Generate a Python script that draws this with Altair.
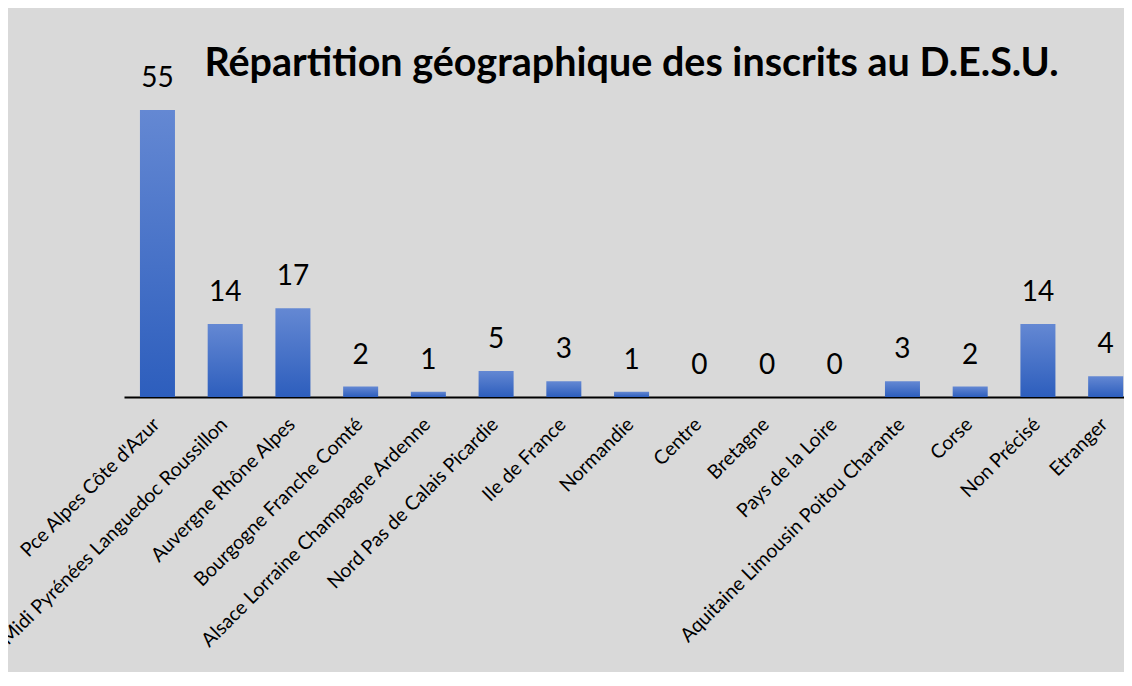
import altair as alt
import pandas as pd

regions = [
    "Pce Alpes Côte d'Azur",
    "Midi Pyrénées Languedoc Roussillon",
    "Auvergne Rhône Alpes",
    "Bourgogne Franche Comté",
    "Alsace Lorraine Champagne Ardenne",
    "Nord Pas de Calais Picardie",
    "Ile de France",
    "Normandie",
    "Centre",
    "Bretagne",
    "Pays de la Loire",
    "Aquitaine Limousin Poitou Charante",
    "Corse",
    "Non Précisé",
    "Etranger",
]
counts = [55, 14, 17, 2, 1, 5, 3, 1, 0, 0, 0, 3, 2, 14, 4]
title_text = ["Répartition géographique des inscrits au D.E.S.U."]

df = pd.DataFrame({"region": regions, "n": counts})
df_title = pd.DataFrame({"t": title_text})

FONT = "Lato"

x = alt.X(
    "region:N",
    sort=regions,
    title=None,
    scale=alt.Scale(paddingInner=0.483, paddingOuter=0.124, align=0.95),
    axis=alt.Axis(
        labelAngle=-45,
        labelAlign="right",
        labelBaseline="middle",
        labelFont=FONT,
        labelFontSize=19.5,
        labelColor="black",
        labelPadding=24,
        labelOffset=-1,
        labelLimit=0,
        ticks=False,
        domainColor="black",
        domainWidth=2,
        grid=False,
        labelOverlap=False,
    ),
)
y = alt.Y("n:Q", scale=alt.Scale(domain=[0, 55], nice=False), axis=None)

bars = alt.Chart(df).mark_bar(
    color={
        "gradient": "linear",
        "x1": 0, "y1": 0, "x2": 0, "y2": 1,
        "stops": [
            {"offset": 0, "color": "#6488d3"},
            {"offset": 1, "color": "#2d5ebd"},
        ],
    }
).encode(x=x, y=y)

labels = alt.Chart(df).mark_text(
    font=FONT, fontSize=28, color="black", baseline="alphabetic", align="center", dy=-23
).encode(x=x, y=y, text="n:Q")

title = alt.Chart(df_title).mark_text(
    font=FONT, fontSize=39.5, fontWeight="bold", color="black",
    baseline="alphabetic", align="center",
).encode(x=alt.value(507.5), y=alt.value(-34), text="t:N")

chart = (
    alt.layer(bars, labels, title)
    .properties(
        width=1000,
        height=287,
        padding={"left": 116, "top": 102, "right": 0, "bottom": 275},
        autosize=alt.AutoSizeParams(type="none"),
        background="#d9d9d9",
    )
    .configure_view(stroke=None)
)

chart.save("out.html", embed_options={"renderer": "svg", "actions": False})
